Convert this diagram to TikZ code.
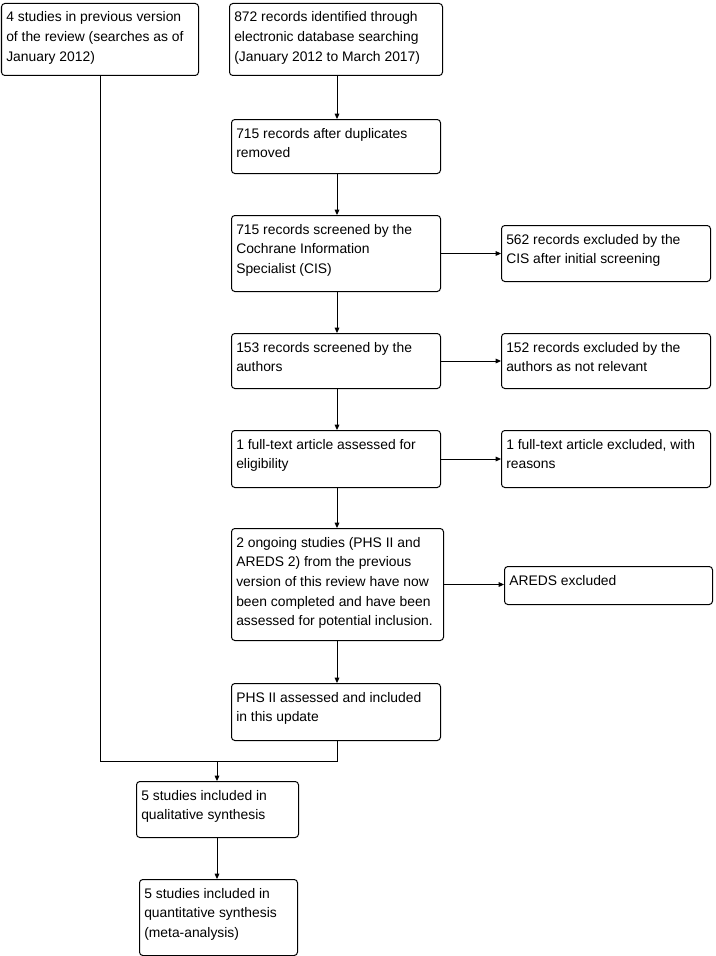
\documentclass[tikz,border=0pt]{standalone}
\usepackage{fontspec}
\setmainfont{Liberation Sans}
\usetikzlibrary{arrows.meta,calc}
\tikzset{
  box/.style={draw, line width=0.75pt, rounded corners=2.5pt, inner sep=0pt},
  txt/.style={inner sep=0pt, font=\fontsize{10.4}{14.8}\selectfont},
  conn/.style={line width=0.75pt},
  arr/.style={conn, -{Triangle[length=4pt,width=3.5pt]}},
}
\newcommand\fbx[6]{%
  \node[box, minimum width=#4*0.75pt, minimum height=#5*0.75pt, anchor=north west] (#1) at (#2,#3) {};
  \node[txt, anchor=base west] (#1t) at (#2+5,#3+19) {\parbox[t]{240pt}{\raggedright #6}};
}
\begin{document}
\begin{tikzpicture}[x=0.75pt, y=-0.75pt]
\fill[white] (0,0) rectangle (715,956);
\useasboundingbox (0,0) rectangle (715,956);

\fbx{A}{1}{3}{197}{72}{4 studies in previous version\\of the review (searches as of\\January 2012)}
\fbx{B}{229}{3}{213}{72}{872 records identified through\\electronic database searching\\(January 2012 to March 2017)}
\fbx{C}{231}{119}{209}{54}{715 records after duplicates\\removed}
\fbx{D}{231}{215}{209}{76}{715 records screened by the\\Cochrane Information\\Specialist (CIS)}
\fbx{E}{501}{225}{209}{56}{562 records excluded by the\\CIS after initial screening}
\fbx{F}{231}{333}{209}{55}{153 records screened by the\\authors}
\fbx{G}{501}{333}{209}{55}{152 records excluded by the\\authors as not relevant}
\fbx{H}{231}{430}{209}{57}{1 full-text article assessed for\\eligibility}
\fbx{I}{501}{430}{209}{57}{1 full-text article excluded, with\\reasons}
\fbx{J}{231}{528}{212}{112}{2 ongoing studies (PHS II and\\AREDS 2) from the previous\\version of this review have now\\been completed and have been\\assessed for potential inclusion.}
\fbx{K}{504}{566}{208}{38}{AREDS excluded}
\fbx{L}{231}{683}{209}{57}{PHS II assessed and included\\in this update}
\fbx{M}{136}{781}{162}{56}{5 studies included in\\qualitative synthesis}
\fbx{N}{139}{879}{158}{76}{5 studies included in\\quantitative synthesis\\(meta-analysis)}

\coordinate (col) at (337,0);
\coordinate (col2) at (217,0);
\draw[arr] (B.south -| col) -- (C.north -| col);
\draw[arr] (C.south -| col) -- (D.north -| col);
\draw[arr] (D.south -| col) -- (F.north -| col);
\draw[arr] (F.south -| col) -- (H.north -| col);
\draw[arr] (H.south -| col) -- (J.north -| col);
\draw[arr] (J.south -| col) -- (L.north -| col);
\draw[arr] (D.east) -- (E.west);
\draw[arr] (F.east) -- (G.west);
\draw[arr] (H.east) -- (I.west);
\draw[arr] (J.east) -- (J.east -| K.west);
\coordinate (j) at (217,761);
\draw[conn] (A.south) |- (j);
\draw[conn] (L.south -| col) |- (j);
\draw[arr] (j) -- (M.north -| col2);
\draw[arr] (M.south -| col2) -- (N.north -| col2);
\end{tikzpicture}
\end{document}
